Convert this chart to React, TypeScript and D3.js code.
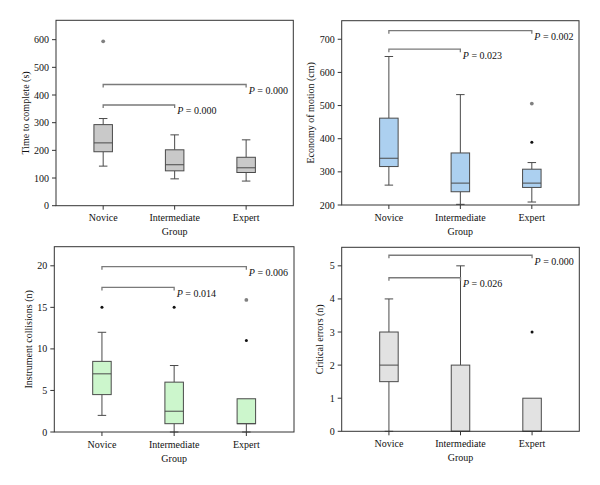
import React from "react";
import * as d3 from "d3";

const groups = ["Novice", "Intermediate", "Expert"];

// [whiskerLow, q1, median, q3, whiskerHigh]
const timeStats = [
  [143, 195, 227, 293, 315],
  [97, 126, 148, 202, 256],
  [89, 120, 137, 175, 238],
];
const timeOutliers = [
  { g: 0, v: 594, extreme: true },
];
const timeTicks = [0, 100, 200, 300, 400, 500, 600];
const timeBrackets = [
  { from: 0, to: 2, y: 438, label: "0.000" },
  { from: 0, to: 1, y: 364, label: "0.000" },
];

const motionStats = [
  [260, 316, 341, 462, 648],
  [202, 240, 266, 357, 533],
  [209, 253, 266, 308, 328],
];
const motionOutliers = [
  { g: 2, v: 506, extreme: true },
  { g: 2, v: 389, extreme: false },
];
const motionTicks = [200, 300, 400, 500, 600, 700];
const motionBrackets = [
  { from: 0, to: 2, y: 726, label: "0.002" },
  { from: 0, to: 1, y: 670, label: "0.023" },
];

const collisionStats = [
  [2, 4.5, 7, 8.5, 12],
  [0, 1, 2.5, 6, 8],
  [0, 1, 1, 4, 4],
];
const collisionOutliers = [
  { g: 0, v: 15, extreme: false },
  { g: 1, v: 15, extreme: false },
  { g: 2, v: 15.9, extreme: true },
  { g: 2, v: 11, extreme: false },
];
const collisionTicks = [0, 5, 10, 15, 20];
const collisionBrackets = [
  { from: 0, to: 2, y: 19.9, label: "0.006" },
  { from: 0, to: 1, y: 17.4, label: "0.014" },
];

const errorStats = [
  [0, 1.5, 2, 3, 4],
  [0, 0, 0, 2, 5],
  [0, 0, 0, 1, 1],
];
const errorOutliers = [{ g: 2, v: 3, extreme: false }];
const errorTicks = [0, 1, 2, 3, 4, 5];
const errorBrackets = [
  { from: 0, to: 2, y: 5.32, label: "0.000" },
  { from: 0, to: 1, y: 4.64, label: "0.026" },
];

type Outlier = { g: number; v: number; extreme: boolean };
type Bracket = { from: number; to: number; y: number; label: string };

interface PanelProps {
  left: number;
  top: number;
  right: number;
  bottom: number;
  domain: [number, number];
  stats: number[][];
  outliers: Outlier[];
  ticks: number[];
  brackets: Bracket[];
  fill: string;
  title: string;
  titleX: number;
}

const FONT = "'Liberation Serif', 'DejaVu Serif', serif";
const AXIS = "#333";
const BOX_STROKE = "#4a4a4a";
const BRACKET = "#7a7a7a";

function Panel(p: PanelProps) {
  const x = d3
    .scalePoint<string>()
    .domain(groups)
    .range([p.left, p.right])
    .padding(0.66);
  const y = d3.scaleLinear().domain(p.domain).range([p.bottom, p.top]);
  const bw = 18.5;
  const cap = 8.5;
  const midY = (p.top + p.bottom) / 2;
  return (
    <g>
      {/* boxes */}
      {p.stats.map((s, i) => {
        const cx = x(groups[i]) as number;
        const [lo, q1, med, q3, hi] = s;
        return (
          <g key={i} stroke={BOX_STROKE} strokeWidth={1}>
            {hi > q3 && (
              <>
                <line x1={cx} x2={cx} y1={y(q3)} y2={y(hi)} />
                <line x1={cx - cap / 2} x2={cx + cap / 2} y1={y(hi)} y2={y(hi)} />
              </>
            )}
            {lo < q1 && (
              <>
                <line x1={cx} x2={cx} y1={y(q1)} y2={y(lo)} />
                <line x1={cx - cap / 2} x2={cx + cap / 2} y1={y(lo)} y2={y(lo)} />
              </>
            )}
            <rect
              x={cx - bw / 2}
              y={y(q3)}
              width={bw}
              height={y(q1) - y(q3)}
              fill={p.fill}
            />
            <line x1={cx - bw / 2} x2={cx + bw / 2} y1={y(med)} y2={y(med)} />
          </g>
        );
      })}
      {/* outliers */}
      {p.outliers.map((o, i) => (
        <circle
          key={i}
          cx={x(groups[o.g]) as number}
          cy={y(o.v)}
          r={o.extreme ? 1.9 : 1.5}
          fill={o.extreme ? "#808080" : "#111"}
        />
      ))}
      {/* brackets */}
      {p.brackets.map((b, i) => {
        const x1 = x(groups[b.from]) as number;
        const x2 = x(groups[b.to]) as number;
        const yy = y(b.y);
        return (
          <g key={i}>
            <path
              d={`M${x1},${yy + 3}V${yy}H${x2}V${yy + 3}`}
              fill="none"
              stroke={BRACKET}
              strokeWidth={1.3}
            />
            <text
              x={x2 + 2.5}
              y={yy + 9.5}
              fontFamily={FONT}
              fontSize={10}
              fill="#111"
            >
              <tspan fontStyle="italic">P</tspan> = {b.label}
            </text>
          </g>
        );
      })}
      {/* frame */}
      <rect
        x={p.left}
        y={p.top}
        width={p.right - p.left}
        height={p.bottom - p.top}
        fill="none"
        stroke={AXIS}
        strokeWidth={1}
      />
      {/* y ticks */}
      {p.ticks.map((t) => (
        <g key={t}>
          <line x1={p.left - 4} x2={p.left} y1={y(t)} y2={y(t)} stroke={AXIS} />
          <text
            x={p.left - 7}
            y={y(t) + 3.5}
            textAnchor="end"
            fontFamily={FONT}
            fontSize={10}
            fill="#111"
          >
            {t}
          </text>
        </g>
      ))}
      {/* x ticks */}
      {groups.map((g) => (
        <g key={g}>
          <line
            x1={x(g) as number}
            x2={x(g) as number}
            y1={p.bottom}
            y2={p.bottom + 4}
            stroke={AXIS}
          />
          <text
            x={x(g) as number}
            y={p.bottom + 15.5}
            textAnchor="middle"
            fontFamily={FONT}
            fontSize={10}
            fill="#111"
          >
            {g}
          </text>
        </g>
      ))}
      <text
        x={(x(groups[1]) as number)}
        y={p.bottom + 29.5}
        textAnchor="middle"
        fontFamily={FONT}
        fontSize={10}
        fill="#111"
      >
        Group
      </text>
      <text
        transform={`translate(${p.titleX},${midY}) rotate(-90)`}
        textAnchor="middle"
        fontFamily={FONT}
        fontSize={10}
        fill="#111"
      >
        {p.title}
      </text>
    </g>
  );
}

export default function App() {
  return (
    <svg
      width={600}
      height={485}
      style={{ position: "absolute", left: 0, top: 0, background: "#fff" }}
    >
      <rect width={600} height={485} fill="#fff" />
      <Panel
        left={56}
        top={20.3}
        right={293.3}
        bottom={205.7}
        domain={[0, 670]}
        stats={timeStats}
        outliers={timeOutliers}
        ticks={timeTicks}
        brackets={timeBrackets}
        fill="#c9c9c9"
        title="Time to complete (s)"
        titleX={28.5}
      />
      <Panel
        left={341.7}
        top={20.7}
        right={579}
        bottom={205}
        domain={[200, 756]}
        stats={motionStats}
        outliers={motionOutliers}
        ticks={motionTicks}
        brackets={motionBrackets}
        fill="#acd0f0"
        title="Economy of motion (cm)"
        titleX={313.5}
      />
      <Panel
        left={54.3}
        top={246.7}
        right={294}
        bottom={432}
        domain={[0, 22.3]}
        stats={collisionStats}
        outliers={collisionOutliers}
        ticks={collisionTicks}
        brackets={collisionBrackets}
        fill="#ccf6cc"
        title="Instrument collisions (n)"
        titleX={31.5}
      />
      <Panel
        left={341.7}
        top={247.3}
        right={579.3}
        bottom={431.3}
        domain={[0, 5.56]}
        stats={errorStats}
        outliers={errorOutliers}
        ticks={errorTicks}
        brackets={errorBrackets}
        fill="#e2e2e2"
        title="Critical errors (n)"
        titleX={322.5}
      />
    </svg>
  );
}
